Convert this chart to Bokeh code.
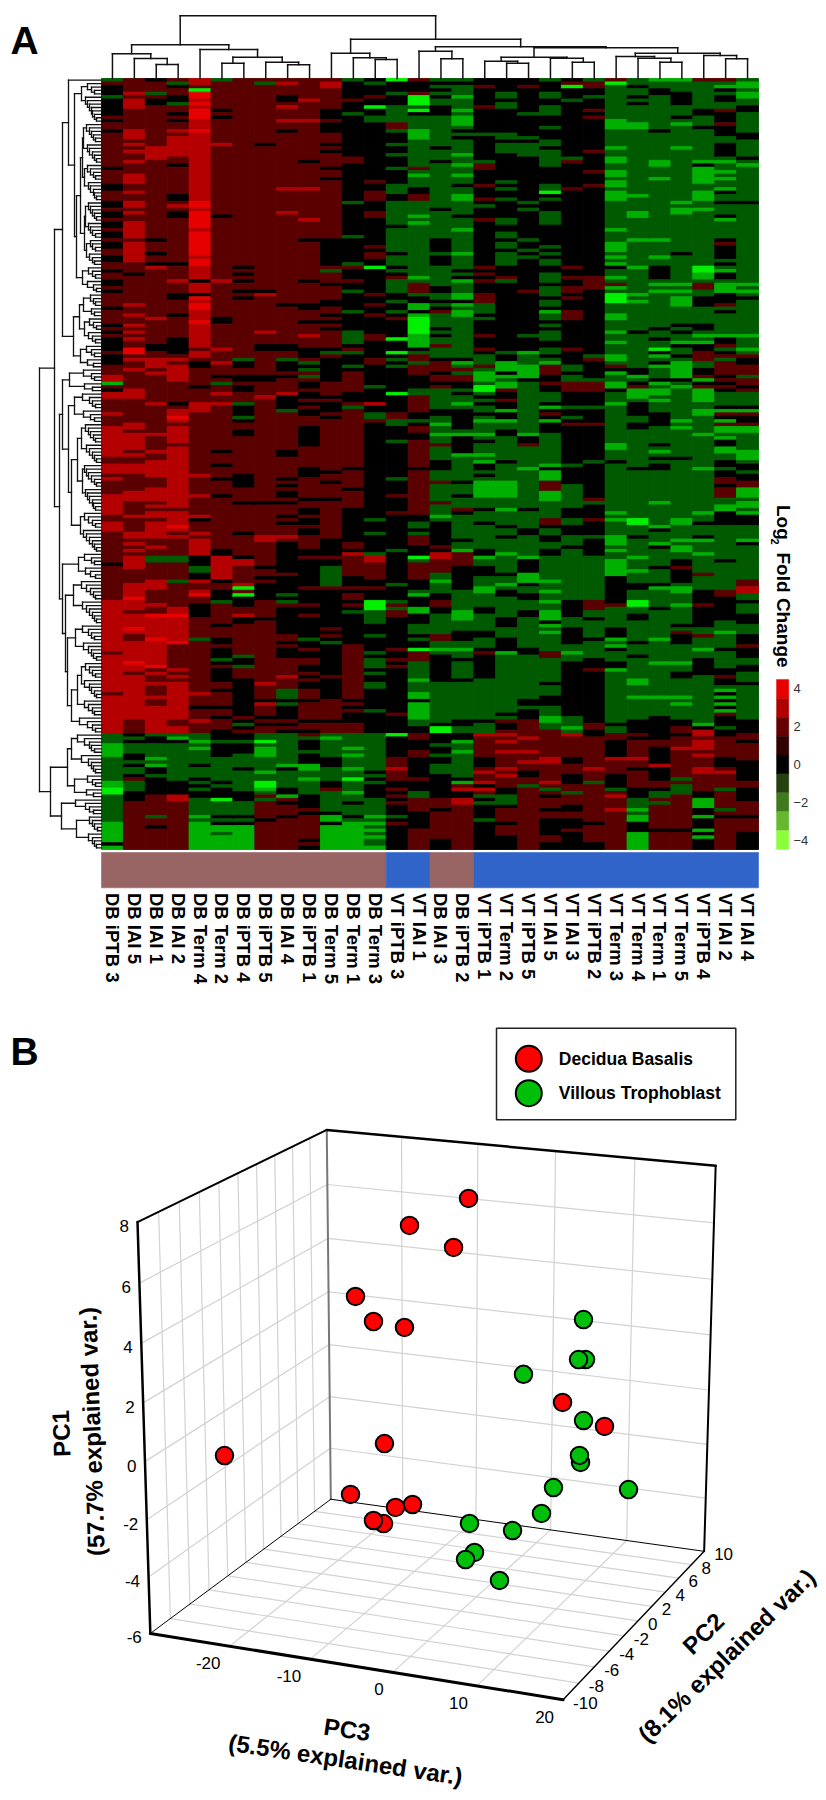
import re
import numpy as np
from bokeh.embed import file_html
from bokeh.resources import INLINE
from bokeh.plotting import figure
from bokeh.models import Range1d
from bokeh.core.properties import value

COLUMN_LABELS = ["DB iPTB 3","DB IAI 5","DB IAI 1","DB IAI 2","DB Term 4","DB Term 2","DB iPTB 4","DB iPTB 5","DB IAI 4","DB iPTB 1","DB Term 5","DB Term 1","DB Term 3",
                 "VT iPTB 3","VT IAI 1","DB IAI 3","DB iPTB 2","VT iPTB 1","VT Term 2","VT iPTB 5","VT IAI 5","VT IAI 3","VT iPTB 2","VT Term 3","VT Term 4","VT Term 1","VT Term 5","VT iPTB 4","VT IAI 2","VT IAI 4"]
SECTION_ROWS = [64, 118, 44]
# Heat levels per column, run-length coded, three blocks of rows each.
HEAT_RLE = [
("g1 a1 K3 g1 K5 a1 K1 a2 K1 a10 K1 a4 K2 a3 K2 a1 K2 a1 K2 a1 K2 a1 K2 a2 K2 a2 K1 a2 K2 a1 K1 a2","a3 K1 a4 K1 a1 K1 a1 K4 a1 K3 a3 b2 h1 a1 K1 b2 a4 b1 a3 b9 a2 b3 a1 b1 a4 b6 a2 b3 a9 K1 a10 b15 a1 b11 a1 b2","b10 g3 h4 g7 h2 i2 g1 g7 h6 K1 h1 K1"),
("a4 b1 a1 b3 a6 b3 a1 b1 a1 b1 a2 b1 a3 b3 a2 b1 a2 b2 a1 b1 a2 b5 a1 b6 a3 K1 a5","a2 b1 a2 b1 a2 b1 a1 b1 a1 b1 a2 c2 a1 b1 a2 b1 a5 b3 a7 b2 a1 b5 a1 b1 a2 b3 a5 b3 a4 b1 a2 a2 b2 a1 b1 a1 b1 a1 b4 a4 b4 c1 b3 a1 b4 c1 b1 a2 b6 c1 b2 a1 b11","b6 a4 K1 g1 K1 g3 K2 g1 K1 g2 K1 a1 g3 K3 a13"),
("K1 a3 g1 a1 K2 a12 b4 a23 K1 a3 K1 a2 K1 b1 a8","a6 b1 a7 K2 a2 b3 a1 b1 a8 b1 a5 a3 b1 a4 b1 a2 b5 a3 b4 a1 b1 a1 b2 a1 b5 a2 b1 a2 g2 a5 b3 a4 b1 a2 c1 b6 c1 b7 c1 a1 b1 a2 b1 a3 b2 a2 b1","a2 b8 g1 K2 g4 h1 g1 h1 K2 g1 K5 a6 g1 a2 K1 a6"),
("a1 g1 K1 a2 K2 g1 a2 K1 a1 K1 a2 b1 a1 b6 a2 K1 a8 K2 a1 b1 a1 K2 a13 K1 a4 b1 a3 K2","K1 a4 K1 a6 K5 a1 b1 a1 b5 a6 K1 a1 b2 c1 b1 a1 b5 a1 b12 b6 a1 b3 b1 c1 b1 a1 b1 a5 g2 a5 g1 a5 a2 b2 c1 b7 c1 a7 b1 a1 b1 a1 b7 a1 b1","b6 a2 b2 g1 h1 K1 g11 K4 b2 a14"),
("b2 a1 i1 c2 b1 c1 b1 c3 b3 c1 b20 c2 b1 c5 b1 c7 b1 c2 b4 K1 b3 K1","c1 b1 c2 b3 c1 b7 a1 b2 a1 K2 a5 K1 a4 b3 a18 b1 a5 b1 a5 b1 K1 a3 b1 a1 b5 K3 g2 K2 b1 a2 b1 c1 a2 K4 a6 g1 a15 b1 a5","a2 K1 a3 b1 a3 g2 h1 g1 h1 g4 K1 g3 K1 g1 K1 g1 K2 g5 h1 g1 h8"),
("g1 a8 K1 a1 K1 a7 b1 a20 K1 a18 b1 a4","a6 K2 a7 b1 a3 b1 a3 K1 a1 g1 a2 b1 a2 b1 a13 K1 a3 K1 a3 K1 a4 K1 a15 K2 b7 K1 a2 K3 g1 a6 K1 a3 K2 a1 K3 g1 K1 a1 K4 a2 K1 a3 K1 a3","a2 K1 a2 K1 a3 K3 g1 K4 g7 K1 g1 K3 i1 g4 K1 g1 K1 h2 g1 h4"),
("a55 K1 a1 K1 a1 K1 a2 K1 a1","K1 a17 g1 K2 a2 K2 a1 K2 a3 g1 K3 g1 K1 a2 K2 a9 a2 K4 a4 K1 a8 K1 a6 K1 b2 a5 b1 i1 a1 i1 K3 a1 a1 b1 K2 a7 a2 g1 K2 g1 a3 K5 K1 a1 K3","K5 a1 K1 g1 K1 a1 K2 g1 K3 g4 K1 g6 K2 K1 g4 K1 g1 K1 h7"),
("a1 g1 a17 K1 a42 K1 b1","a10 b1 a3 K2 a7 K2 a4 b1 a30 K1 a9 b2 a7 K1 a2 K1 a1 K1 K4 a5 K1 a18 b1 a3","K1 b1 a3 K1 a1 K1 a2 g2 i1 g1 h3 g4 h1 g2 i2 h1 g1 a1 g1 a5 K1 a9"),
("a1 b1 a3 K2 a1 b1 a3 b1 a2 K1 a16 b1 a6 b1 a24","a2 K1 a11 K2 a2 g1 K3 a1 K1 a4 b1 K2 K2 g1 a11 K2 a6 K1 a1 K1 a1 K2 a1 K1 a3 K1 a1 K1 a3 b1 a1 K9 a1 K5 g1 K1 g1 a1 K8 a2 K1 a1 K3 a5 b1 a3 g2","K1 g1 K1 K3 a1 K1 a1 K1 g9 h1 K1 g5 K2 h1 a1 K1 a3 K1 a9"),
("a6 b1 a5 b1 a11 K1 a7 b1 a8 b1 a5 K1 a11 K1 a4","a2 K2 a3 K1 a3 b1 a3 K3 a1 g1 K1 g1 a1 g1 a1 K2 a1 K2 a1 K1 a1 K2 a3 K6 a6 K3 a6 K1 a2 K2 a1 K2 a1 K2 a4 K2 a1 K8 a1 K4 a1 K2 a1 K6 g1 K2 a1 K2 a2 K2 a1 K1 a1 K2 a7 K2","K1 a5 K1 a2 K1 a1 g1 K2 K1 g1 K3 h2 g2 h1 g4 K4 a1 K1 a7 K1 a1 K1"),
("a1 b2 a6 K3 a1 K3 a3 K1 a1 K1 a1 a3 K1 a2 K1 a17 K8 a1 g1 a3 K1 a3 g1","a1 K2 a2 K1 a1 K1 a1 K1 a5 K1 g1 a1 K7 a4 K1 a1 K3 a1 K1 a15 K1 a2 K1 a4 K1 a11 K5 a1 K2 g6 a1 K11 a1 K1 a1 K1 g1 K9 a1 K6 a6","a3 a3 K1 a3 g1 h1 g5 K3 g4 K2 a1 g6 K1 h2 K1 h7"),
("g1 K5 a1 K3 g1 K12 a2 K11 g1 K9 g1 K7 g1 a1 K3 a1 K2 g1 K1 g1","K4 g1 K5 g4 K1 a1 g1 K3 g1 K1 a6 K3 a1 g1 a1 a16 K1 a5 K1 a5 K10 a2 K1 b1 a6 K3 a1 K1 a2 K1 a1 K1 g1 K9 a17 K1 a1","K1 a1 K1 a1 K3 a3 g4 h1 g1 h1 g3 h1 g2 i1 g3 h1 g2 K1 g3 K1 g1 h8"),
("K1 g1 K3 a1 K2 i1 K2 g2 K17 a1 K2 a3 K3 a2 K8 a1 K1 a2 K2 i1 K7 a2","K2 a1 K2 a1 K5 a2 K5 a2 K6 g1 K4 b1 K2 g2 a1 K28 g1 K3 g1 K5 g1 b2 a5 K2 a1 K3 i3 g4 K3 g1 K4 g1 K1 g3 K1 g1 K2 g2 K7","K3 g1 K6 g11 K1 g1 K1 g1 K4 g5 h1 g1 h1 g1 h1 g1 h1 g2 h2"),
("i1 K3 g1 K3 g5 a2 g1 K3 g1 K2 g1 K3 g1 K4 g3 K2 g7 K1 g7 K1 g3 K1 g1 K1 a1 g4 K2","K1 g1 K2 g1 K1 a1 K5 i1 K3 i1 K1 g1 K1 g1 K7 i1 K5 a2 g2 K4 g1 K10 g1 K4 a1 K4 a1 K10 g1 K9 g1 K4 g1 a1 g1 a2 K9 a1 K2 a1 K1 a1 K15","K4 a1 K5 i1 K6 a3 b1 a3 K2 a1 K1 a1 K1 a1 K3 g1 K1 a1 K6"),
("a1 K3 a1 i3 g1 i1 K1 g4 h3 g8 a1 g1 h1 g3 K2 a2 g4 h1 g1 h1 g15 h1 g1 a3 g1 a1","K2 h2 K1 h1 i5 h4 K1 g1 a2 g1 a3 K4 g2 a3 a2 K2 g1 K1 a2 K2 a8 K1 a13 K2 g2 K1 g1 a3 K3 i1 g1 a5 K3 g1 h1 K3 h2 K3 g3 K1 g1 K2 i1 a3 g5 h1 g3 h2 i2 h1 K1 h1","K1 h5 g2 K2 a2 K3 a2 K6 a1 K3 g2 a4 K5 a5"),
("g1 K1 g1 K1 g1 K1 g2 K3 g9 K1 g3 K1 g13 K1 g8 K4 g1 K3 g6 K2 g2","g1 K1 g1 K1 a1 g4 K1 g1 K1 g2 a1 g1 g2 K1 a3 K1 a2 K1 a1 g6 K2 g2 h1 g2 h1 g2 a1 g4 K3 g3 a1 g5 a1 g3 h1 g1 K7 a1 K1 b2 a4 g2 h1 g3 K2 a2 K2 g6 a2 g2 h1 g1 K8 g3","g7 K1 i2 K3 g1 K2 g1 K2 g3 K7 a3 K1 a8 K2"),
("g1 K1 g3 h1 g3 h1 g1 h3 g1 K1 g1 K1 g4 h1 g2 h1 g2 h1 g2 K1 g2 h2 g4 K1 g3 h1 g6 h1 g4 K1 g1 K1 h1 g3 h2","h1 K1 h1 g1 h2 g12 K1 h1 g1 a1 g1 a2 K2 g1 K1 g2 h1 g1 K6 g1 h1 K5 h1 g7 K1 g3 K1 g3 a1 K1 g7 K1 g2 h1 a4 K7 g6 h3 g3 K3 g2 h1 g2 K1 g5 K1 g6","g6 K2 g2 K2 h1 g2 h1 g2 g5 K1 h1 a1 b1 K2 b2 a10"),
("K2 a1 K5 a1 K7 g1 K7 g1 a2 K4 a1 K3 a1 K1 g1 K3 a1 K13 a1 K1 a1 K1 a1 K3 a2","a2 g3 K1 g1 K4 a1 K3 a1 K1 g3 a1 g1 h3 g1 i2 g1 K1 g1 K1 g2 K1 g1 h1 g3 h1 g1 K1 g3 h1 g1 h1 K2 g1 K1 g1 h2 h3 g3 K1 g3 K1 g7 K2 h1 g2 K3 g3 h2 g4 K2 g5 K2 g3 K1 a1 K7 g5","g6 K1 g3 b1 a6 K3 a1 b1 a2 b1 K1 b1 a1 g1 K1 g1 K4 g1 K8"),
("K4 g2 K1 g2 K7 g2 K1 g3 K8 g1 K1 g1 K2 g1 K5 g2 K2 g2 K1 g2 K1 g4 K3 a1 g1 K2","K16 g1 K2 h3 K1 h1 g1 h2 a1 K2 a1 K2 h1 K2 h1 g2 K2 g7 K1 g5 h2 h3 g3 h1 g4 K1 g2 K1 g4 h1 g5 K1 g2 h1 g1 K2 g6 K3 g3 K4 h1 g3 g7","g4 K1 g1 a1 K2 a1 b1 a1 b1 a2 b1 a4 b1 a1 b1 a3 K2 g3 K1 a4 K1 a3 K1"),
("K2 a1 K7 g1 K6 g1 K1 g4 K13 g1 K1 g1 K8 g1 K2 g1 K1 g1 K9 a1 K1","K11 g1 K4 h1 g3 h4 K1 g6 g9 h1 K2 a1 g6 h1 g6 g5 K1 g5 K2 g6 h1 K4 h3 K1 g2 K2 g3 K2 g9 K2 g12","K2 g1 K3 a3 a2 b1 a3 b1 a2 b1 a2 K2 a2 g1 a3 a11"),
("g1 K3 g2 K2 g3 K3 g1 K3 g2 K1 g5 K5 g2 i1 K1 g1 K3 g4 K6 g1 K1 g1 K1 g2 K2 g3 K1 g3 K1","K1 g2 K1 h1 g2 K1 g1 K1 g3 K2 g2 K1 g1 h1 a3 K2 a1 K2 g3 K1 h1 K1 a1 K1 h1 K3 g9 h1 K1 h3 a3 h3 g5 a2 K1 g2 K2 g2 K2 g7 h1 g2 h1 g2 h1 g2 h3 K1 h1 g1 h1 g5 a2 g7 K1 g3 K2","K2 g3 h2 g2 a8 b2 a5 b1 a1 g1 a1 K1 a3 K1 a2 K5 a2 K2"),
("K1 a1 i1 K3 g1 K16 g1 a1 K7 a1 K22 a1 K2 a1 K2 a2 K1 a1 K2","a1 K3 a3 K8 a1 K4 g2 K1 g2 a3 K4 g1 K2 g1 K1 a1 K11 g1 K5 g7 K3 g2 K3 g3 K1 g7 g8 K5 g3 K5 g2 h1 g2 K3 K8","K5 g3 h1 g1 b1 a6 K2 a3 K3 a2 g1 a1 a2 K2 a2 K3 a1 K4"),
("g1 a2 K2 g1 K3 a1 K1 a1 K9 a1 K5 a1 K3 a1 K26 a4 K4","K17 g1 a1 K5 g1 a3 K4 g1 K4 a1 K10 g1 K7 K3 a1 g1 K4 a1 K4 g1 K5 g6 g7 a3 g2 K1 g5 K1 g5 K3 a1 K2 K5","K7 a2 K2 a8 a1 b1 a3 g1 a2 a9 K1 a5 K2"),
("a1 i1 g10 h3 g5 h1 g2 h2 g2 h2 g1 h2 g1 h3 g8 h1 g3 h3 g1 h1 g1 h1 K1 g2 h1 g1 a1 h1 g1 i3","i2 g3 h2 g3 h1 g2 h1 g3 h2 g1 a1 K1 h1 g2 h2 K1 g3 h1 g11 h2 g3 K1 g7 g7 h1 g1 h1 g4 h3 g1 h1 g2 h5 K8 a1 g6 K3 h1 g1 h1 K1 g3 K2 h1 g3 g4","g7 K1 g2 a2 K5 b1 a4 K4 g1 a1 b1 a3 b1 a10"),
("g2 K1 g2 K1 g1 K1 g5 h2 g19 h1 g4 h2 g6 h1 g7 h1 g7 h1 K1 g1","g1 h1 g8 K1 g10 K2 h1 g1 K1 a1 h3 g1 K4 g2 K2 g5 g6 K1 g5 g9 i2 g3 K1 g5 h1 g3 h1 g3 K2 g3 i2 g2 K2 g6 K1 g3 K1 g6 h2 g3 h1 g3","g6 K4 a1 K1 a5 b1 a2 K1 a3 a2 K3 g3 h1 g1 h2 K3 h3"),
("h1 g2 K2 g2 g8 K1 g8 h2 g3 h1 g17 h1 g4 h1 g2 K4 g1 h1 g1 h1 g2","g9 K1 g2 K1 g2 i1 K1 h1 g1 K1 h1 g3 K1 h1 g1 h2 g1 h1 g3 K4 g5 K1 g1 h1 g1 K1 g1 K2 g5 g4 h1 g6 h1 K1 g3 h1 K1 g5 K1 g4 K1 h1 g5 K1 g8 h1 g6 h1 g9 h1 g3","g5 K7 a2 K5 b1 K2 K2 a2 K1 g2 a1 g1 a7 K1 a5"),
("h1 g3 K4 g3 K1 g1 h1 g6 h1 g15 h1 g1 h2 g11 K1 g8 h1 g1 h1 g1 h2","h3 g5 K1 g1 K1 g2 h1 K1 g2 K1 g1 h5 K1 g1 h1 g6 g3 h1 g1 h1 g8 K1 g7 g1 g9 h2 g4 h1 g1 h2 g2 K2 a1 K4 g1 h2 g3 h1 g5 K1 g1 a1 K3 g5 h1 g2 K2 g5 h1 g5","g1 h1 g4 K2 a2 K1 a3 b1 a5 a3 g1 a1 g1 g2 a10 K1 a6"),
("a1 g8 K2 g3 K1 g9 h1 K1 h5 g2 h3 g2 h1 g16 i2 h2 g1 a2 g2","K3 g5 K2 g1 h1 g1 h1 K2 a3 g2 K2 a1 h1 K1 a1 h4 g2 h2 g5 h1 g9 h1 g5 g7 h1 g2 K1 g3 K1 h1 g3 h1 g5 a1 g4 K4 a1 K6 g2 a1 g3 h1 g2 K5 g7","g7 h1 K1 b2 a1 b3 a1 b1 a3 b2 a5 K2 h3 K2 h1 K3 h1 K1 h1 K2"),
("a1 g1 h1 K1 g1 K2 g2 a1 K3 a1 K3 g2 K4 g1 h1 g2 h1 g1 h1 g2 h1 K1 g2 K1 g3 K1 h1 g5 K1 a1 K4 g1 K1 g1 h1 K2 g1 h3 K2","K2 a1 g1 K1 g6 h1 K2 a1 g1 K1 a1 g1 a4 K1 a1 K1 a1 K1 g4 K1 h1 a1 K1 h1 a1 h2 g1 h1 K2 h2 g2 K2 g1 K2 a2 K1 a3 g2 h2 K4 g10 K1 g8 a2 K7 g3 h1 g4 K1 g5 K2 a1 K2 g1 h1 K1 h1 g1","K1 h1 K1 h1 a1 K3 g1 K2 a6 K3 a1 b1 a4 g1 a2 a3 g1 a1 K1 a7"),
("g1 h2 g1 h2 g2 K2 g6 K2 g5 K1 g1 h1 g10 K1 g23 h1 g1 h1 g3","K1 g10 h1 g3 h1 g1 a1 K2 a3 g1 a2 K1 a1 g4 K1 h1 a1 K1 K1 a1 h2 g5 h3 g1 K2 g1 K2 a2 h1 h2 g1 h2 g1 h1 K3 g4 h1 K1 g10 a2 b2 g2 K1 g3 K3 g3 K3 a1 K3 g2 K2 g3 K1 g2 g3","g6 K4 a2 K1 a5 K6 a2 K4 a4 K1 a4 K5"),
]
LEVEL_COLORS = {"K":"#000000","a":"#5a0000","b":"#b40000","c":"#e60000","g":"#005a00","h":"#00b000","i":"#00f000"}

TOP_TREE = (62.7,
  (33.7, (24.7, 0, (20, 1, (14, 2, 3))),
         (29, 4, (21.3, (15.3, 5, 6), (16.3, 7, (13.7, 8, 9))))),
  (39.3, (25.3, 10, (20.7, 11, (19, 12, 13))),
         (31.7, (27.3, 14, (19.7, 15, 16)),
                (30.7, (21.3, (17.3, 17, (15.3, 18, 19)), (20.3, 20, (16.3, 21, 22))),
                       (25.3, (22, 23, (20.3, 24, (16.3, 25, 26))), (23, 27, (19.7, 28, 29)))))))

# Row dendrogram: (height, upper, lower); a list is a staircase of merge heights.
B1=(18,[6,8,10,12,15],[5,7,9,12,14]); C1=(17,[6,8,11,14],[5,7,8,11,13]); D1=(16,[5,7,9,11,13],[6,9,11,13])
E1=(15,[6,9,11],[7,9,12]); F1=(19,[6,9,13],[5,8,14]); G1=(22,(18,[6,8,11],[7,10]),(17,[5,8,12],[6,9,13]))
H1=(21,[7,10,15],[8,14])
TOP_BLOCK=(39,(33,0,(27,(20,[7,10,14],[5,7,9,10,12,14,16]),(25,(21,(19,B1,C1),(17,D1,E1)),F1))),(28,G1,H1))
I1=(32,[7,10,18],[9,17]); J1=(27,[6,9,12,19],[7,11,18])
K1=(20,[6,8,11,13,16],[5,7,9,12,15]); K2=(19,[5,7,10,13,15,17],[6,8,9,12,14,16]); L1=(21,[6,9,13,17],[5,7,9,12,15,18])
M1=(23,[7,10,17],[6,11,16]); N1=(28,[6,8,11,15,20],[5,7,9,12,15,19]); O1=(26,[7,10,13,19],[5,8,10,13,18])
P1=(24,(20,[6,9,12,16],[5,7,10,12,17]),[7,9,13,17]); Q1=[6,9,14,22]
R1=[7,10,12,17,24]; S1=[6,8,10,13,20]; T1=(27,[6,9,14],[8,15]); U1=[8,12,16,26]; V1=(25,[4,7,9,12],[5,7,9,13])
MID_BLOCK=(42,(39,I1,(33,J1,(30,(24,K1,K2),L1))),(39,M1,(36,N1,(34,O1,(30,P1,Q1)))))
LOW_BLOCK=(51,(34,(30,R1,S1),T1),(40,U1,V1))
LEFT_TREE=(62,(47,TOP_BLOCK,MID_BLOCK),LOW_BLOCK)

LEGEND_VALUES=[4,3,2,1,0,-1,-2,-3,-4]
LEGEND_COLORS=["#e60000","#b00000","#640000","#300000","#000000","#264010","#3f7a1c","#66b82e","#8cff3c"]
LEGEND_TICKS=[4,2,0,-2,-4]

PC3_TICKS=[-30,-20,-10,0,10,20]; PC2_TICKS=[-10,-8,-6,-4,-2,0,2,4,6,8,10]; PC1_TICKS=[-6,-4,-2,0,2,4,6,8]

# PCA scores: (PC3, PC2, PC1)
DECIDUA=[(-10.53,2,6.4),(-17.44,2,3.71),(-12.97,0,3.35),(-9.08,0,3.27),(-5.19,4,7.15),(-5.03,2,5.8),(12.21,-2,1.81),(18.95,-4,1.67),(-27.57,-4,-1.05),(-15.99,4,-1.97),(-18.3,2,-3.48),(-8.12,0,-2.98),(-12.43,2,-3.73),(-11.84,0,-3.82),(-13.13,0,-3.76)]
VILLOUS=[(9.21,4,3.36),(11.31,2,2.43),(10.46,2,2.4),(1.85,4,1.18),(11.19,2,0.29),(12.68,0,-0.68),(12.54,0,-0.44),(9.44,0,-1.69),(15.15,4,-2.47),(9.86,-2,-2.11),(3.07,-4,-2.25),(8.27,-4,-2.29),(5.67,-6,-2.66),(4.6,-6,-2.95),(10.61,-8,-2.91)]

W,H=826,1800
p=figure(width=W,height=H,x_range=Range1d(0,W),y_range=Range1d(H,0),toolbar_location=None,output_backend="svg",min_border=0,outline_line_color=None)
p.axis.visible=False; p.grid.visible=False
L,T=101.0,78.0; CW=657/30; RH=771/226
p.extra_x_ranges={"col":Range1d(-L/CW,(W-L)/CW),"dist":Range1d(L,L-W)}
p.extra_y_ranges={"row":Range1d((H-T)/RH,-T/RH),"dist":Range1d(T-H,T),
  "leg":Range1d(-4.5-(H-849)/18.89,4.5+679/18.89)}
FONT=value("Liberation Sans")

def rle(s,n):
    out=[]
    for c,k in re.findall(r"([Kabcghi])(\d+)",s):
        out+= [c]*int(k)
    out=out[:n]
    out+= [out[-1]]*(n-len(out))
    return out
l_,r_,t_,b_,c_=[],[],[],[],[]
for ci,secs in enumerate(HEAT_RLE):
    col=[]
    for s,n in zip(secs,SECTION_ROWS): col+=rle(s,n)
    i=0
    while i<len(col):
        j=i
        while j<len(col) and col[j]==col[i]: j+=1
        l_.append(ci);r_.append(ci+1);t_.append(i);b_.append(j);c_.append(LEVEL_COLORS[col[i]])
        i=j
p.quad(left=l_,right=r_,top=t_,bottom=b_,fill_color=c_,line_color=c_,line_width=0.9,x_range_name="col",y_range_name="row")

def walk(node,segs,cnt):
    if isinstance(node,list):
        t=(node[0],0,0)
        for h in node[1:]: t=(h,0,t)
        node=t
    if not isinstance(node,tuple):
        pos=cnt[0]+0.5; cnt[0]+=1
        return pos,0.0
    h,a,b=node
    pa,ha=walk(a,segs,cnt); pb,hb=walk(b,segs,cnt)
    segs+= [(h,pa,h,pb),(ha,pa,h,pa),(hb,pb,h,pb)]
    return (pa+pb)/2,h
segs=[];cnt=[0];walk(TOP_TREE,segs,cnt)
s=np.array(segs)
p.segment(x0=s[:,1],y0=s[:,0],x1=s[:,3],y1=s[:,2],line_color="#111111",line_width=1.5,line_cap="square",x_range_name="col",y_range_name="dist")
segs=[];cnt=[0];walk(LEFT_TREE,segs,cnt)
s=np.array(segs)
p.segment(x0=s[:,0],y0=s[:,1],x1=s[:,2],y1=s[:,3],line_color="#111111",line_width=1.3,line_cap="square",x_range_name="dist",y_range_name="row")

# annotation strip (merged runs of the same tissue) and labels
strip=["#986464" if c.startswith("DB") else "#3064c8" for c in COLUMN_LABELS]
cols=np.arange(len(COLUMN_LABELS))
sl,sr,sc=[],[],[]
i=0
while i<len(strip):
    j=i
    while j<len(strip) and strip[j]==strip[i]: j+=1
    sl.append(i);sr.append(j);sc.append(strip[i]);i=j
p.quad(left=sl,right=sr,top=(852-T)/RH,bottom=(887.3-T)/RH,fill_color=sc,line_color=sc,line_width=0.6,x_range_name="col",y_range_name="row")
p.text(x=cols+0.5,y=[(892.5-T)/RH]*len(cols),text=COLUMN_LABELS,angle=-np.pi/2,text_align="left",text_baseline="middle",text_font=FONT,text_font_size="18.5px",text_font_style="bold",text_color="#000000",x_range_name="col",y_range_name="row")

# colour key
lv=np.array(LEGEND_VALUES,dtype=float)
p.quad(left=776,right=788.3,top=lv+0.5,bottom=lv-0.5,fill_color=LEGEND_COLORS,line_color=LEGEND_COLORS,line_width=0.4,y_range_name="leg")
p.text(x=[793]*5,y=LEGEND_TICKS,text=[str(v).replace("-","\u2212") for v in LEGEND_TICKS],text_baseline="middle",text_font=FONT,text_font_size="13px",text_color="#333333",y_range_name="leg")
def T_(x,y,t,size,angle=0,bold=True,align="center",base="middle"):
    p.text(x=[x],y=[y],text=[t],angle=np.deg2rad(angle),text_align=align,text_baseline=base,text_font=FONT,text_font_size=size,text_font_style="bold" if bold else "normal",text_color="#000000")
T_(783,504.5,"Log","19px",-90,align="left")
T_(774,541,"2","11px",-90)
T_(783,552,"Fold Change","19px",-90,align="left")
T_(10,39.5,"A","39px",align="left",base="alphabetic")
T_(10,1051,"B","39px",align="left",base="alphabetic")

# 3D box: screen corners of the box in reference pixels
C3=(-30,20);C2=(-10,10);C1=(-6,8)
corners=[((C3[0],C2[0],C1[0]),(150,1632.7)),((C3[0],C2[0],C1[1]),(136.7,1221.7)),((C3[1],C2[0],C1[0]),(562.7,1699.3)),
 ((C3[1],C2[1],C1[0]),(703.7,1550.7)),((C3[1],C2[1],C1[1]),(715,1165.3)),((C3[0],C2[1],C1[0]),(330,1499)),((C3[0],C2[1],C1[1]),(326.7,1129.3))]
A=[]
for (X,Y,Z),(u,v) in corners:
    u-=8;v-=8
    A.append([X,Y,Z,1,0,0,0,0,-u*X,-u*Y,-u*Z,-u])
    A.append([0,0,0,0,X,Y,Z,1,-v*X,-v*Y,-v*Z,-v])
PM=np.linalg.svd(np.array(A,float))[2][-1].reshape(3,4)
def proj(pc3,pc2,pc1):
    v=PM@np.array([pc3,pc2,pc1,np.ones_like(np.asarray(pc3,float))],float)
    return v[0]/v[2]+8,v[1]/v[2]+8

def poly(a,b,col,w):
    xa,ya=proj(*a);xb,yb=proj(*b)
    p.line(x=[xa,xb],y=[ya,yb],line_color=col,line_width=w,line_cap="round")
GRID="#d2d2d2"
for x in PC3_TICKS[1:-1]:
    poly((x,10,-6),(x,10,8),GRID,1.2); poly((x,-10,-6),(x,10,-6),GRID,1.2)
for y in PC2_TICKS[1:-1]:
    poly((-30,y,-6),(-30,y,8),GRID,1.2); poly((-30,y,-6),(20,y,-6),GRID,1.2)
for z in PC1_TICKS[1:-1]:
    poly((-30,10,z),(20,10,z),GRID,1.2); poly((-30,-10,z),(-30,10,z),GRID,1.2)
poly((-30,10,-6),(-30,10,8),"#777777",2)
poly((-30,-10,-6),(-30,10,-6),"#000000",1)
poly((-30,10,-6),(20,10,-6),"#000000",1)
poly((20,-10,-6),(20,10,-6),"#000000",1.4)
poly((-30,-10,-6),(20,-10,-6),"#000000",3)
poly((-30,-10,-6),(-30,-10,8),"#000000",2.5)
poly((-30,-10,8),(-30,10,8),"#000000",2)
poly((-30,10,8),(20,10,8),"#000000",2.5)
poly((20,10,-6),(20,10,8),"#000000",2)

def tick_text(xs,ys,labels,align):
    p.text(x=xs,y=ys,text=labels,text_align=align,text_baseline="middle",text_font=FONT,text_font_size="17px",text_color="#000000")
z=np.array(PC1_TICKS,float);xx,yy=proj(np.full(8,-30.),np.full(8,-10.),z)
tick_text(xx-8.5,yy+4,[str(v) for v in PC1_TICKS],"right")
x3=np.array(PC3_TICKS[1:],float);xx,yy=proj(x3,np.full(5,-10.),np.full(5,-6.))
tick_text(xx-9,yy+17,[str(v) for v in PC3_TICKS[1:]],"right")
y2=np.array(PC2_TICKS,float);xx,yy=proj(np.full(11,20.),y2,np.full(11,-6.))
tick_text(xx+10,yy+3,[str(v) for v in PC2_TICKS],"left")

def pts(vals,color):
    a=np.array(vals,float);xx,yy=proj(a[:,0],a[:,1],a[:,2])
    p.scatter(x=xx,y=yy,size=17.5,marker="circle",fill_color=color,line_color="#000000",line_width=2)
pts(DECIDUA,"#ff0000"); pts(VILLOUS,"#00bf0a")

T_(60.7,1433,"PC1","24px",92); T_(91.5,1431,"(57.7% explained var.)","24px",92)
T_(346.7,1729,"PC3","24px",-8.4); T_(345,1759,"(5.5% explained var.)","24px",-8.4)
T_(702.7,1633,"PC2","24px",44.3); T_(726,1655,"(8.1% explained var.)","24px",44.3)

# legend
p.quad(left=496,right=735.3,top=1027.7,bottom=1119.3,fill_color="#ffffff",line_color="#222222",line_width=1.5)
p.scatter(x=[528.3,528.3],y=[1058.3,1092.7],size=26,marker="circle",fill_color=["#ff0000","#00bf0a"],line_color="#000000",line_width=2)
T_(558.3,1058.3,"Decidua Basalis","17.5px",align="left")
T_(558.3,1092.7,"Villous Trophoblast","17.5px",align="left")

open("out.html","w").write(file_html(p,INLINE))
